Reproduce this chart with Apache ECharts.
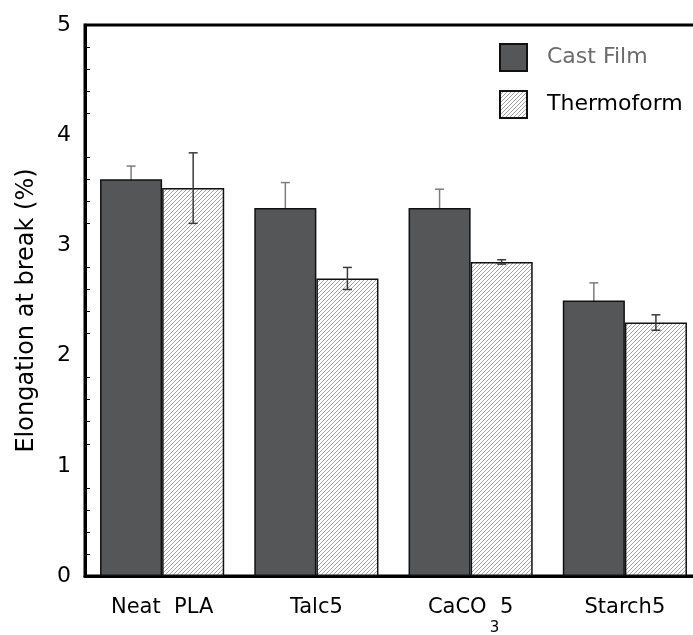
<!DOCTYPE html>
<html>
<head>
<meta charset="utf-8">
<script src="https://cdn.jsdelivr.net/npm/echarts@6/dist/echarts.min.js"></script>
<style>html,body{margin:0;padding:0;background:#fff}#c{width:693px;height:635px}</style>
</head>
<body>
<div id="c"></div>
<script>
const categories = ['Neat  PLA', 'Talc5', 'CaCO3 5', 'Starch5'];
const castFilm = [3.60, 3.34, 3.34, 2.50];
const castFilmErr = [0.12, 0.23, 0.17, 0.16];
const thermoform = [3.52, 2.70, 2.85, 2.30];
const thermoformErr = [0.32, 0.10, 0.02, 0.07];
const yTicks = [0, 1, 2, 3, 4, 5];

const FONT = 'DejaVu Sans';
const GAP = 0.195;

// hatch pattern
const pc = document.createElement('canvas');
pc.width = 4; pc.height = 4;
const g = pc.getContext('2d');
g.fillStyle = '#fff'; g.fillRect(0, 0, 4, 4);
g.strokeStyle = '#8c8c8c'; g.lineWidth = 0.8;
g.beginPath();
g.moveTo(-1, 5); g.lineTo(5, -1);
g.moveTo(-1, 1); g.lineTo(1, -1);
g.moveTo(3, 5); g.lineTo(5, 3);
g.stroke();

function errSeries(vals, errs, side, color, z) {
  return {
    type: 'custom',
    z: z,
    silent: true,
    data: vals.map((v, i) => [i, v, errs[i]]),
    encode: { x: 0, y: 1 },
    renderItem: function (params, api) {
      const i = api.value(0), v = api.value(1), e = api.value(2);
      const band = api.size([1, 0])[0];
      const off = side * band * (1 - GAP) / 4;
      const t = api.coord([i, v + e]);
      const b = api.coord([i, v - e]);
      const x = t[0] + off;
      const cw = 4.5;
      const st = { stroke: color, lineWidth: 1.5 };
      return {
        type: 'group',
        children: [
          { type: 'line', shape: { x1: x, y1: t[1], x2: x, y2: b[1] }, style: st },
          { type: 'line', shape: { x1: x - cw, y1: t[1], x2: x + cw, y2: t[1] }, style: st },
          { type: 'line', shape: { x1: x - cw, y1: b[1], x2: x + cw, y2: b[1] }, style: st }
        ]
      };
    }
  };
}

const chart = echarts.init(document.getElementById('c'));
chart.setOption({
  animation: false,
  backgroundColor: '#fff',
  grid: {
    left: 85, width: 617, top: 25, height: 551,
    outerBoundsMode: 'none', containLabel: false,
    show: true, borderColor: '#000', borderWidth: 3, backgroundColor: 'transparent'
  },
  legend: {
    orient: 'vertical',
    left: 499, top: 43, padding: 0,
    icon: 'rect',
    itemWidth: 27, itemHeight: 27, itemGap: 18,
    textStyle: { fontFamily: FONT, fontSize: 22, padding: [0, 0, 0, 15] },
    data: [
      { name: 'Cast Film', textStyle: { color: '#6b6b6b' } },
      { name: 'Thermoform', textStyle: { color: '#000' } }
    ]
  },
  xAxis: {
    type: 'category',
    data: categories,
    boundaryGap: true,
    axisLine: { lineStyle: { color: '#000', width: 3 } },
    axisTick: { inside: true, length: 6, interval: 0, lineStyle: { color: '#000', width: 1 } },
    axisLabel: {
      interval: 0, margin: 19, color: '#000', fontFamily: FONT, fontSize: 21,
      formatter: function (v) {
        if (v === 'CaCO3 5') return '{m|CaCO  5}\n{s|3}';
        return '{m|' + v + '}';
      },
      rich: {
        m: { fontFamily: FONT, fontSize: 21, color: '#000', lineHeight: 25 },
        s: { fontFamily: FONT, fontSize: 15, color: '#000', lineHeight: 17, padding: [0, 0, 0, 48] }
      }
    }
  },
  yAxis: {
    type: 'value',
    min: yTicks[0], max: yTicks[yTicks.length - 1], interval: 1,
    name: 'Elongation at break (%)',
    nameLocation: 'middle', nameGap: 46, nameRotate: 90,
    nameTextStyle: { fontFamily: FONT, fontSize: 24, color: '#000', padding: [0, 20, 0, 0] },
    axisLine: { show: true, lineStyle: { color: '#000', width: 3 } },
    axisTick: { inside: true, length: 9, lineStyle: { color: '#000', width: 1 } },
    minorTick: { show: true, splitNumber: 5, length: 5, lineStyle: { color: '#000', width: 1 } },
    splitLine: { show: false },
    axisLabel: { margin: 14, color: '#000', fontFamily: FONT, fontSize: 22 }
  },
  series: [
    errSeries(castFilm, castFilmErr, -1, '#7d7d7d', 1),
    {
      name: 'Cast Film', type: 'bar', data: castFilm, z: 2,
      barGap: '0%', barCategoryGap: (GAP * 100) + '%',
      itemStyle: { color: '#555658', borderColor: '#111', borderWidth: 1.5 }
    },
    {
      name: 'Thermoform', type: 'bar', data: thermoform, z: 2,
      itemStyle: { color: { image: pc, repeat: 'repeat' }, borderColor: '#111', borderWidth: 1.5 }
    },
    errSeries(thermoform, thermoformErr, 1, '#3a3a3a', 3)
  ]
});
</script>
</body>
</html>
